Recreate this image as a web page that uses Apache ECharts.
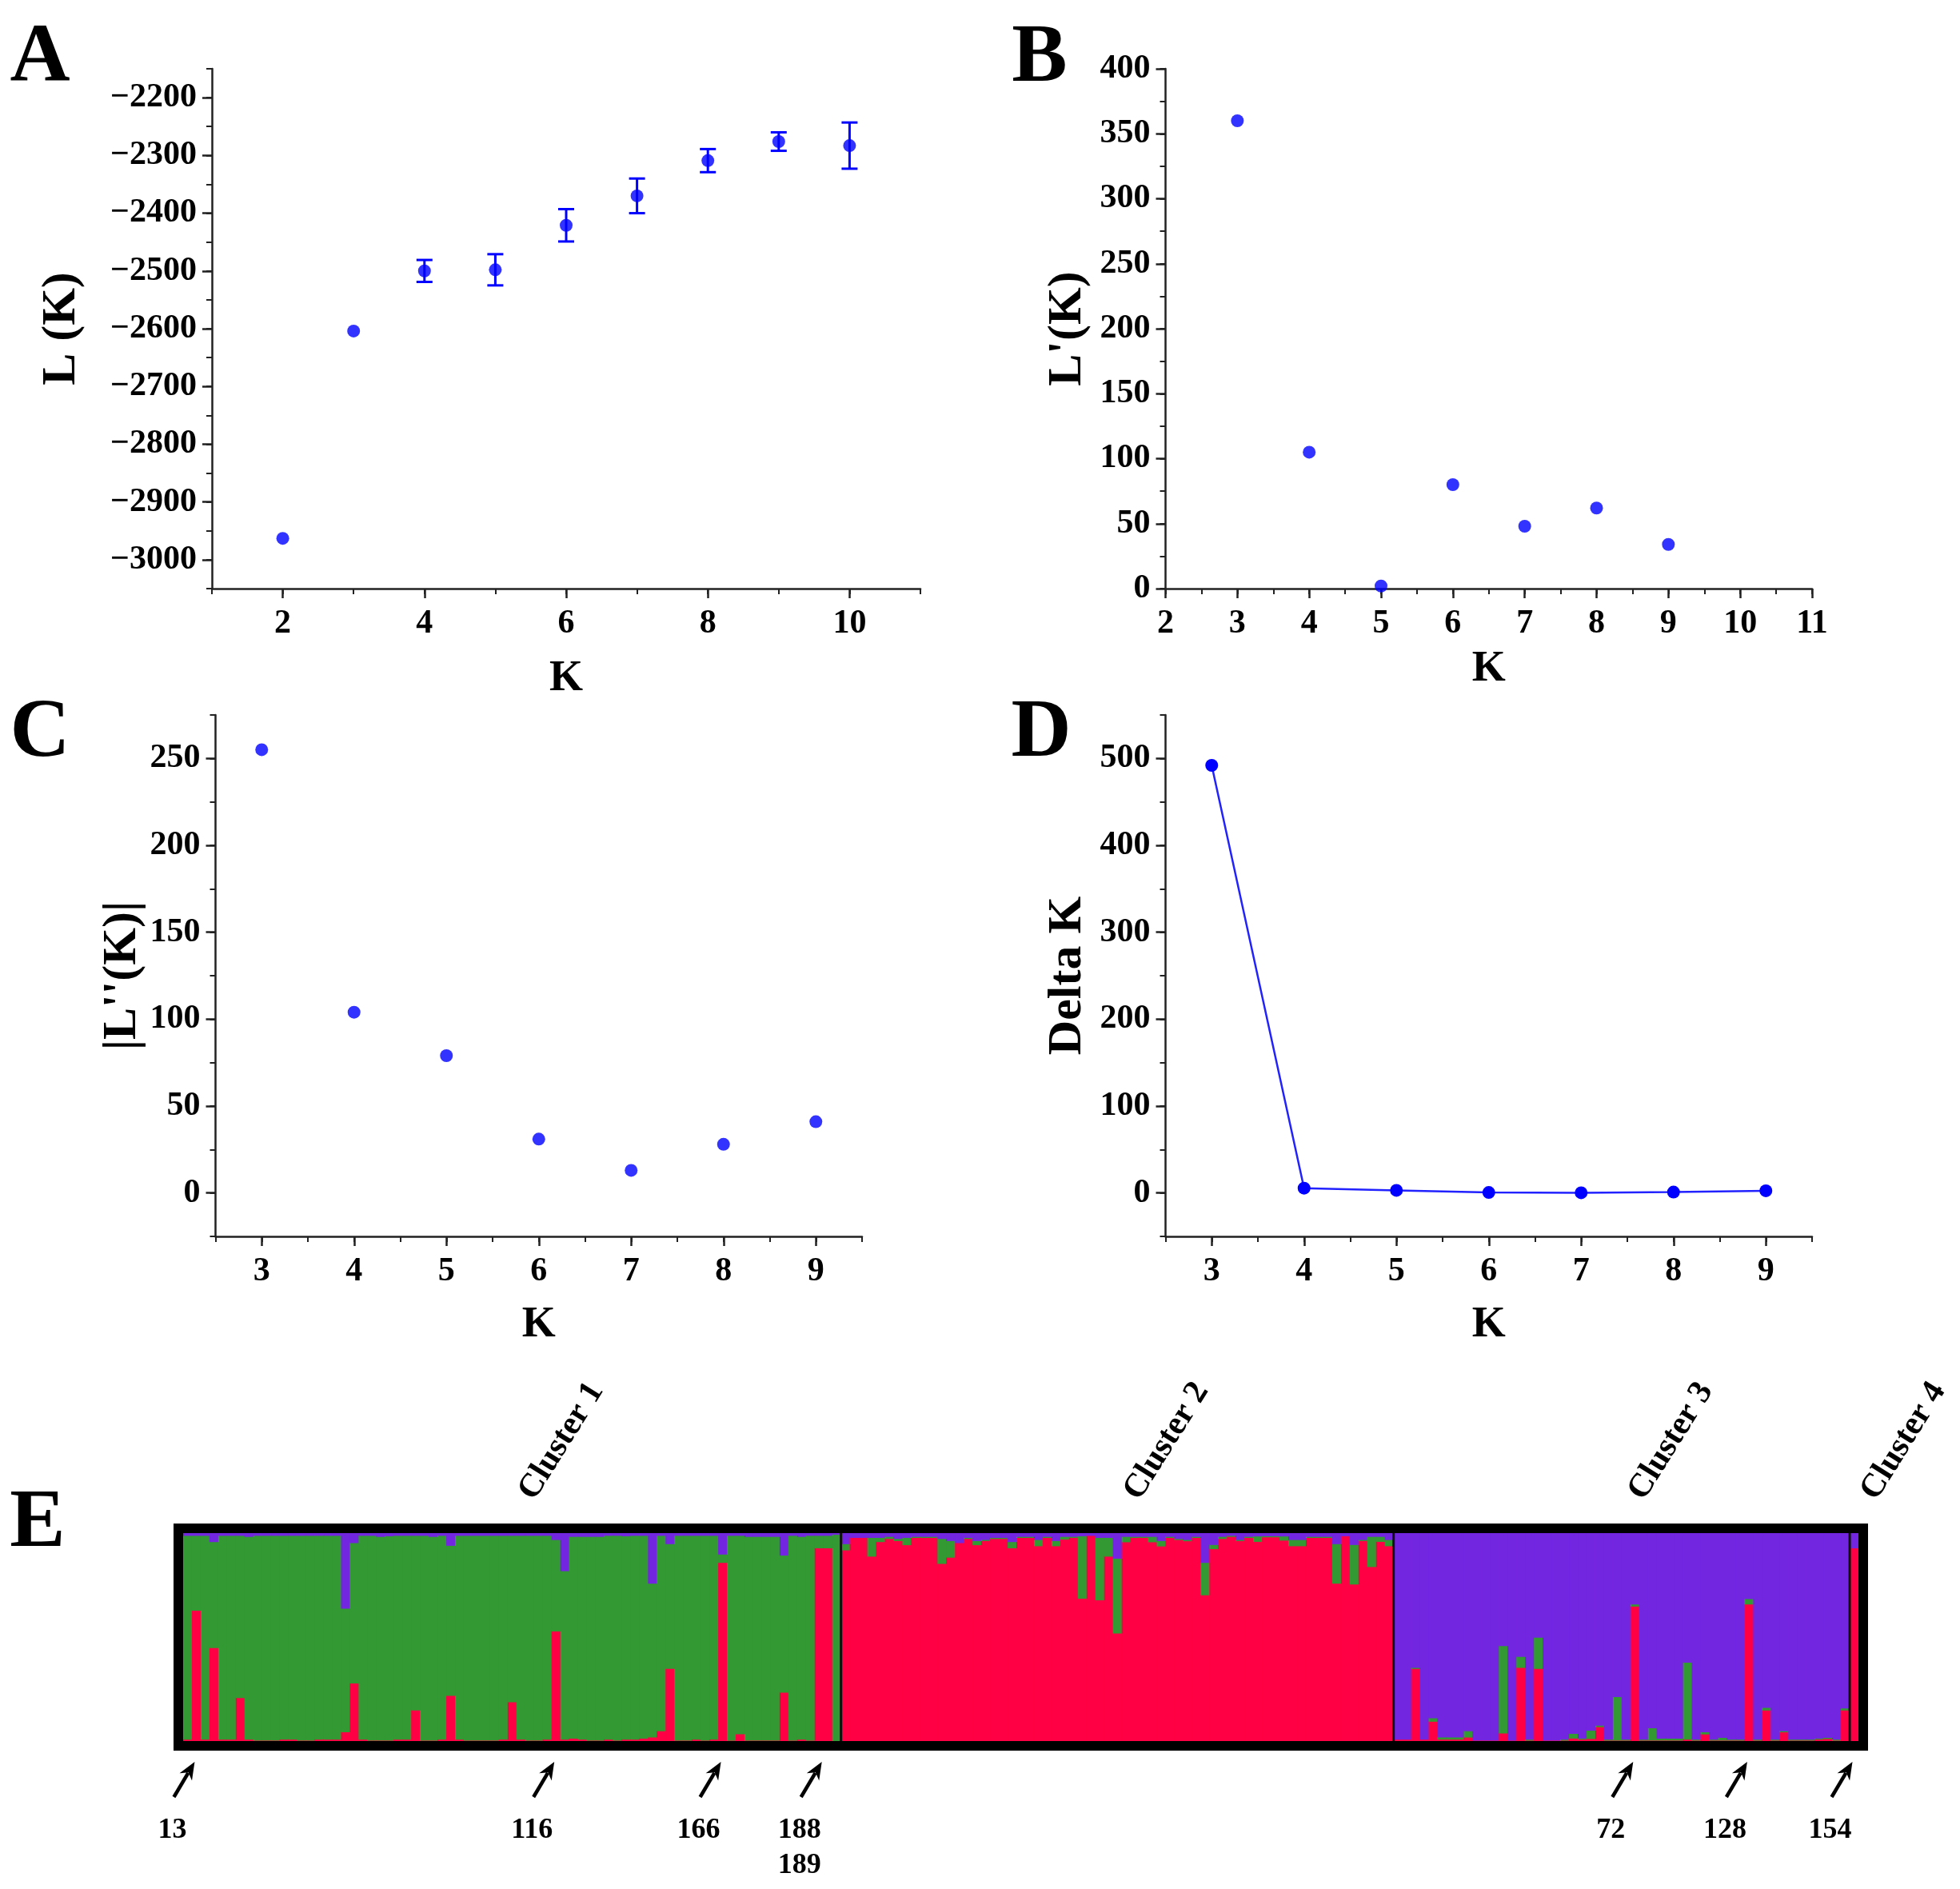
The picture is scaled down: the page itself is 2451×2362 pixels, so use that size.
<!DOCTYPE html>
<html><head><meta charset="utf-8">
<script src="https://cdn.jsdelivr.net/npm/echarts@6/dist/echarts.min.js"></script>
<style>html,body{margin:0;padding:0;background:#fff}#c{width:2451px;height:2362px}</style>
</head><body><div id="c"></div>
<script>
// ---------- Panel A : L(K) ----------
const kA = [2, 3, 4, 5, 6, 7, 8, 9, 10];
const meanA = [-2963, -2604, -2500, -2498, -2421, -2370, -2309, -2276, -2283];
const errA = [0, 0, 19, 27, 28, 30, 20, 16, 40];
const ticksAx = [2, 4, 6, 8, 10];
const ticksAy = [-3000, -2900, -2800, -2700, -2600, -2500, -2400, -2300, -2200];
// ---------- Panel B : L'(K) ----------
const kB = [3, 4, 5, 6, 7, 8, 9];
const valB = [360, 105, 2, 80, 48, 62, 34];
const ticksBx = [2, 3, 4, 5, 6, 7, 8, 9, 10, 11];
const ticksBy = [0, 50, 100, 150, 200, 250, 300, 350, 400];
// ---------- Panel C : |L''(K)| ----------
const kC = [3, 4, 5, 6, 7, 8, 9];
const valC = [255, 104, 79, 31, 13, 28, 41];
const ticksCx = [3, 4, 5, 6, 7, 8, 9];
const ticksCy = [0, 50, 100, 150, 200, 250];
// ---------- Panel D : Delta K ----------
const kD = [3, 4, 5, 6, 7, 8, 9];
const valD = [492, 5.5, 3, 0.5, 0.2, 1, 2.5];
const ticksDx = [3, 4, 5, 6, 7, 8, 9];
const ticksDy = [0, 100, 200, 300, 400, 500];
// ---------- Panel E : STRUCTURE ancestry (bottom->top: red, green, purple) ----------
const clusterNames = ['Cluster 1', 'Cluster 2', 'Cluster 3', 'Cluster 4'];
const clusterSizes = [75, 63, 52, 1];
const redQ = [
 0.01,0.63,0.01,0.45,0.01,0.01,0.21,0.01,0.005,0.005, 0.005,0.01,0.01,0.005,0.005,0.01,0.01,0.01,0.045,0.28,
 0.01,0.005,0.005,0.005,0.01,0.01,0.15,0.005,0.005,0.01, 0.22,0.01,0.005,0.005,0.005,0.005,0.01,0.19,0.01,0.005,
 0.005,0.01,0.53,0.01,0.015,0.01,0.005,0.005,0.01,0.005, 0.01,0.01,0.015,0.02,0.05,0.35,0.005,0.005,0.01,0.005,
 0.01,0.86,0.005,0.036,0.005,0.005,0.005,0.005,0.236,0.005, 0.01,0.005,0.93,0.93,0.0,
 0.92,0.98,0.98,0.89,0.96,0.975,0.965,0.945,0.98,0.98, 0.98,0.855,0.885,0.955,0.975,0.945,0.965,0.975,0.975,0.93,
 0.98,0.98,0.94,0.98,0.94,0.972,0.98,0.688,0.99,0.68, 0.89,0.52,0.959,0.98,0.98,0.959,0.939,0.98,0.97,0.964,
 0.98,0.704,0.926,0.975,0.985,0.965,0.98,0.961,0.983,0.983, 0.967,0.94,0.94,0.98,0.98,0.98,0.76,0.988,0.756,0.965,
 0.84,0.961,0.94,
 0.01,0.01,0.35,0.01,0.096,0.01,0.01,0.01,0.02,0.005, 0.005,0.005,0.04,0.005,0.355,0.005,0.35,0.005,0.005,0.005,
 0.015,0.01,0.013,0.07,0.005,0.005,0.005,0.65,0.005,0.005, 0.005,0.005,0.005,0.01,0.005,0.035,0.005,0.005,0.005,0.005,
 0.66,0.005,0.15,0.005,0.045,0.005,0.005,0.005,0.01,0.013, 0.005,0.15,
 0.93
];
const greenQ = [
 0.98,0.36,0.98,0.51,0.98,0.98,0.78,0.975,0.985,0.985, 0.985,0.98,0.98,0.985,0.985,0.98,0.98,0.98,0.595,0.675,
 0.98,0.985,0.98,0.983,0.98,0.98,0.84,0.985,0.98,0.98, 0.722,0.98,0.985,0.985,0.985,0.985,0.98,0.80,0.98,0.985,
 0.985,0.98,0.44,0.81,0.97,0.975,0.98,0.98,0.98,0.985, 0.978,0.98,0.975,0.74,0.94,0.60,0.985,0.985,0.98,0.985,
 0.98,0.04,0.985,0.954,0.98,0.98,0.98,0.98,0.659,0.985, 0.975,0.985,0.06,0.06,0.995,
 0.03,0.0,0.0,0.09,0.02,0.01,0.01,0.035,0.005,0.005, 0.005,0.12,0.08,0.0,0.005,0.02,0.005,0.005,0.005,0.03,
 0.005,0.005,0.03,0.005,0.025,0.013,0.005,0.30,0.0,0.30, 0.09,0.36,0.026,0.005,0.005,0.026,0.026,0.005,0.005,0.006,
 0.005,0.156,0.02,0.01,0.005,0.005,0.005,0.026,0.005,0.005, 0.02,0.03,0.03,0.005,0.005,0.005,0.19,0.0,0.19,0.005,
 0.145,0.024,0.03,
 0.0,0.0,0.005,0.0,0.017,0.01,0.01,0.01,0.03,0.0, 0.0,0.0,0.42,0.0,0.053,0.005,0.15,0.0,0.0,0.005,
 0.023,0.005,0.04,0.007,0.005,0.21,0.005,0.01,0.005,0.06, 0.01,0.01,0.01,0.37,0.005,0.01,0.005,0.013,0.005,0.005,
 0.026,0.005,0.013,0.005,0.005,0.005,0.005,0.005,0.005,0.005, 0.005,0.01,
 0.0
];
const purpleQ = [
 0.01,0.01,0.01,0.04,0.01,0.01,0.01,0.015,0.01,0.01, 0.01,0.01,0.01,0.01,0.01,0.01,0.01,0.01,0.36,0.045,
 0.01,0.01,0.015,0.012,0.01,0.01,0.01,0.01,0.015,0.01, 0.058,0.01,0.01,0.01,0.01,0.01,0.01,0.01,0.01,0.01,
 0.01,0.01,0.03,0.18,0.015,0.015,0.015,0.015,0.01,0.01, 0.012,0.01,0.01,0.24,0.01,0.05,0.01,0.01,0.01,0.01,
 0.01,0.10,0.01,0.01,0.015,0.015,0.015,0.015,0.105,0.01, 0.015,0.01,0.01,0.01,0.005,
 0.05,0.02,0.02,0.02,0.02,0.015,0.025,0.02,0.015,0.015, 0.015,0.025,0.035,0.045,0.02,0.035,0.03,0.02,0.02,0.04,
 0.015,0.015,0.03,0.015,0.035,0.015,0.015,0.012,0.01,0.02, 0.02,0.12,0.015,0.015,0.015,0.015,0.035,0.015,0.025,0.03,
 0.015,0.14,0.054,0.015,0.01,0.03,0.015,0.013,0.012,0.012, 0.013,0.03,0.03,0.015,0.015,0.015,0.05,0.012,0.054,0.03,
 0.015,0.015,0.03,
 0.99,0.99,0.645,0.99,0.887,0.98,0.98,0.98,0.95,0.995, 0.995,0.995,0.54,0.995,0.592,0.99,0.50,0.995,0.995,0.99,
 0.962,0.985,0.947,0.923,0.99,0.785,0.99,0.34,0.99,0.935, 0.985,0.985,0.985,0.62,0.99,0.955,0.99,0.982,0.99,0.99,
 0.314,0.99,0.837,0.99,0.95,0.99,0.99,0.99,0.985,0.982, 0.99,0.84,
 0.07
];
const individuals = redQ.map((_, i) => String(i + 1));
// arrows: target individual positions (0-based) and the sample numbers written below
const arrowTargets = [[1], [42], [61], [72, 73], [165], [178], [190]];
const arrowLabels = [['13'], ['116'], ['166'], ['188', '189'], ['72'], ['128'], ['154']];

// ---------- styling ----------
const FONT = "'Liberation Serif','Times New Roman',serif";
const AX = '#222';
const BLUE = '#0000ff';
const RED = '#ff0044', GREEN = '#339933', PURPLE = '#7326e0';

function mainAxis(o) {
  return {
    type: 'value', gridIndex: o.g, min: o.min, max: o.max, interval: o.step,
    position: o.x ? 'bottom' : 'left',
    name: o.name, nameLocation: 'middle', nameGap: o.gap,
    nameTextStyle: { fontFamily: FONT, fontWeight: 'bold', fontSize: o.x ? 54 : 60, color: '#000' },
    axisLine: { show: true, onZero: false, lineStyle: { color: AX, width: 2.5 } },
    axisTick: { show: true, inside: false, length: 12, customValues: o.majors, lineStyle: { color: AX, width: 2.5 } },
    axisLabel: { show: true, margin: o.x ? 23 : 19, fontFamily: FONT, fontWeight: 'bold', fontSize: 42, color: '#000',
      customValues: o.majors,
      formatter: v => (o.majors.indexOf(v) >= 0 ? (v < 0 ? '\u2212' + Math.abs(v) : String(v)) : '') },
    splitLine: { show: false }
  };
}
function minorAxis(o) {
  return {
    type: 'value', gridIndex: o.g, min: o.min, max: o.max, interval: o.step,
    position: o.x ? 'bottom' : 'left',
    axisLine: { show: false, onZero: false },
    axisTick: { show: true, inside: false, length: 7, lineStyle: { color: AX, width: 2 } },
    axisLabel: { show: false }, splitLine: { show: false }
  };
}
const axX = [
  { g: 0, x: true, min: 1, max: 11, step: 1, majors: ticksAx, name: 'K', gap: 86 },
  { g: 1, x: true, min: 2, max: 11, step: 0.5, majors: ticksBx, name: 'K', gap: 74 },
  { g: 2, x: true, min: 2.5, max: 9.5, step: 0.5, majors: ticksCx, name: 'K', gap: 84 },
  { g: 3, x: true, min: 2.5, max: 9.5, step: 0.5, majors: ticksDx, name: 'K', gap: 84 }
];
const axY = [
  { g: 0, min: -3050, max: -2150, step: 50, majors: ticksAy, name: 'L (K)', gap: 158 },
  { g: 1, min: 0, max: 400, step: 25, majors: ticksBy, name: "L'(K)", gap: 92 },
  { g: 2, min: -25, max: 275, step: 25, majors: ticksCy, name: "|L''(K)|", gap: 86 },
  { g: 3, min: -50, max: 550, step: 50, majors: ticksDy, name: 'Delta K', gap: 92 }
];

const xAxes = axX.map(mainAxis);
const yAxes = axY.map(mainAxis);
xAxes.push({ type: 'category', gridIndex: 4, data: individuals, show: false, boundaryGap: true });
yAxes.push({ type: 'value', gridIndex: 4, min: 0, max: 1, show: false });
axX.forEach(o => xAxes.push(minorAxis(o)));
axY.forEach(o => yAxes.push(minorAxis(o)));

const option = {
  animation: false,
  backgroundColor: '#ffffff',
  grid: [
    { left: 265, top: 86, width: 886, height: 650, outerBoundsMode: 'none' },
    { left: 1457.5, top: 86, width: 808.5, height: 650, outerBoundsMode: 'none' },
    { left: 269.5, top: 894, width: 808.5, height: 652, outerBoundsMode: 'none' },
    { left: 1457.5, top: 894, width: 808.5, height: 652, outerBoundsMode: 'none' },
    { left: 229, top: 1917, width: 2095, height: 260, outerBoundsMode: 'none' }
  ],
  xAxis: xAxes,
  yAxis: yAxes,
  series: [
    {
      type: 'custom', xAxisIndex: 0, yAxisIndex: 0, z: 2,
      data: kA.map((k, i) => [k, meanA[i] - errA[i], meanA[i] + errA[i]]),
      encode: { x: 0, y: [1, 2] },
      renderItem: function (params, api) {
        const x = api.value(0), lo = api.value(1), hi = api.value(2);
        if (hi - lo <= 0) return null;
        const p1 = api.coord([x, lo]), p2 = api.coord([x, hi]);
        const w = 10, st = { stroke: BLUE, lineWidth: 3 };
        return { type: 'group', children: [
          { type: 'line', shape: { x1: p1[0], y1: p1[1], x2: p2[0], y2: p2[1] }, style: st },
          { type: 'line', shape: { x1: p1[0] - w, y1: p1[1], x2: p1[0] + w, y2: p1[1] }, style: st },
          { type: 'line', shape: { x1: p2[0] - w, y1: p2[1], x2: p2[0] + w, y2: p2[1] }, style: st }
        ] };
      }
    },
    { type: 'scatter', xAxisIndex: 0, yAxisIndex: 0, z: 3, symbol: 'circle', symbolSize: 16,
      itemStyle: { color: BLUE }, data: kA.map((k, i) => [k, meanA[i]]) },
    { type: 'scatter', xAxisIndex: 1, yAxisIndex: 1, symbol: 'circle', symbolSize: 16,
      itemStyle: { color: BLUE }, data: kB.map((k, i) => [k, valB[i]]) },
    { type: 'scatter', xAxisIndex: 2, yAxisIndex: 2, symbol: 'circle', symbolSize: 16,
      itemStyle: { color: BLUE }, data: kC.map((k, i) => [k, valC[i]]) },
    { type: 'line', xAxisIndex: 3, yAxisIndex: 3, symbol: 'circle', symbolSize: 16, showSymbol: true,
      lineStyle: { color: '#2222ff', width: 2.5 }, itemStyle: { color: BLUE },
      data: kD.map((k, i) => [k, valD[i]]) },
    {
      // stacked ancestry bars (red, green, purple) drawn through the category / value scales
      type: 'custom', xAxisIndex: 4, yAxisIndex: 4, z: 2,
      data: individuals.map((id, i) => [i, redQ[i], greenQ[i], purpleQ[i]]),
      encode: { x: 0, y: 1 },
      renderItem: function (params, api) {
        const i = api.value(0);
        const q = [api.value(1), api.value(2), api.value(3)];
        const cols = [RED, GREEN, PURPLE];
        const base = api.coord([i, 0]);
        const w = api.size([1, 0])[0];
        const left = base[0] - w / 2;
        const children = [];
        let acc = 0;
        for (let k = 0; k < 3; k++) {
          if (q[k] <= 0) continue;
          const yB = api.coord([i, acc])[1];
          const yT = api.coord([i, Math.min(1, acc + q[k])])[1];
          children.push({ type: 'rect', shape: { x: left, y: yT, width: w + 1.2, height: (yB - yT) + 0.8 },
            style: { fill: cols[k] } });
          acc += q[k];
        }
        return { type: 'group', children };
      }
    }
  ]
};

const chart = echarts.init(document.getElementById('c'), null, { renderer: 'canvas' });
chart.setOption(option);

// ---------- annotations computed from the chart's own scales ----------
const px = i => chart.convertToPixel({ xAxisIndex: 4 }, i);
const N = redQ.length;
const bw = px(1) - px(0);
const yTop = chart.convertToPixel({ yAxisIndex: 4 }, 1);
const yBot = chart.convertToPixel({ yAxisIndex: 4 }, 0);
const xLeft = px(0) - bw / 2, xRight = px(N - 1) + bw / 2;
const g = [];
const letter = (t, x, y) => ({ type: 'text', x, y, style: { text: t, font: 'bold 104px ' + FONT, fill: '#000', textAlign: 'center', textVerticalAlign: 'middle' } });
g.push(letter('A', 50, 74), letter('B', 1300, 74), letter('C', 50, 918), letter('D', 1302, 918), letter('E', 47, 1906));
// frame
g.push({ type: 'rect', z: 100, shape: { x: xLeft - 6, y: yTop - 6, width: xRight - xLeft + 12, height: yBot - yTop + 12 },
  style: { fill: null, stroke: '#000', lineWidth: 12 } });
// cluster dividers and labels
let start = 0;
clusterSizes.forEach((n, ci) => {
  const end = start + n - 1;
  if (ci > 0) {
    const bx = px(start) - bw / 2;
    g.push({ type: 'line', z: 90, shape: { x1: bx, y1: yTop, x2: bx, y2: yBot }, style: { stroke: '#111', lineWidth: 3 } });
  }
  const cx = (px(start) + px(end)) / 2 + 36;
  g.push({ type: 'text', x: cx, y: yTop - 34, rotation: 58 * Math.PI / 180,
    style: { text: clusterNames[ci], font: 'bold 42px ' + FONT, fill: '#000', textAlign: 'left', textVerticalAlign: 'bottom' } });
  start += n;
});
// arrows + sample numbers
arrowTargets.forEach((t, ai) => {
  const tx = t.reduce((s, i) => s + px(i), 0) / t.length - 2;
  const ty = yBot + 26;
  const sx = tx - 26, sy = ty + 44;
  const L = Math.hypot(tx - sx, ty - sy), dx = (tx - sx) / L, dy = (ty - sy) / L;
  const nx = -dy, ny = dx, hl = 22, hw = 9;
  g.push({ type: 'line', shape: { x1: sx, y1: sy, x2: tx - dx * 16, y2: ty - dy * 16 }, style: { stroke: '#000', lineWidth: 4.5 } });
  g.push({ type: 'polygon', shape: { points: [[tx, ty], [tx - dx * hl + nx * hw, ty - dy * hl + ny * hw], [tx - dx * hl * 0.7, ty - dy * hl * 0.7], [tx - dx * hl - nx * hw, ty - dy * hl - ny * hw]] }, style: { fill: '#000' } });
  arrowLabels[ai].forEach((lab, li) => {
    g.push({ type: 'text', x: tx - 28, y: ty + 86 + li * 44,
      style: { text: lab, font: 'bold 36px ' + FONT, fill: '#000', textAlign: 'center', textVerticalAlign: 'middle' } });
  });
});
chart.setOption({ graphic: { elements: g } });
</script>
</body></html>
